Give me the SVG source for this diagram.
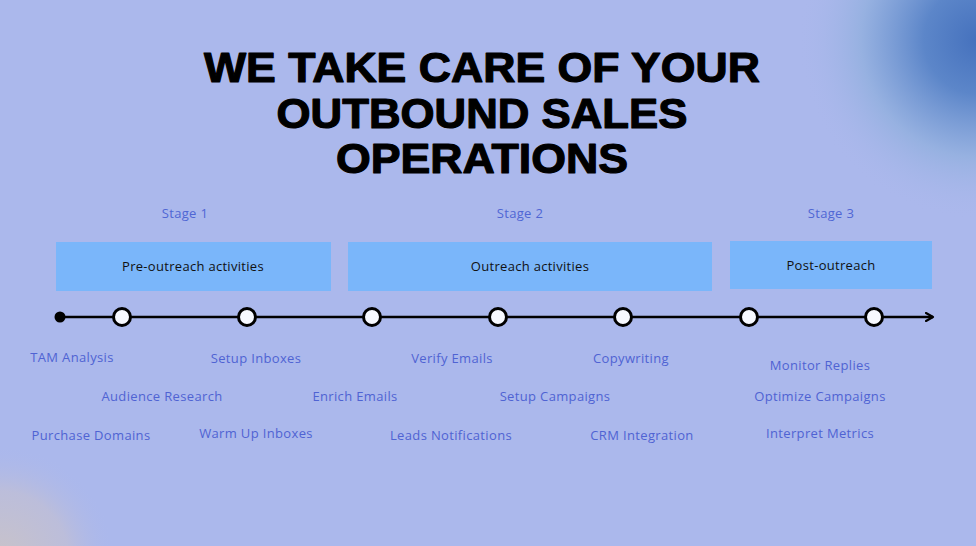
<svg xmlns="http://www.w3.org/2000/svg" width="976" height="546" viewBox="0 0 976 546">
<defs>
<radialGradient id="tr" cx="978" cy="40" r="180" gradientUnits="userSpaceOnUse">
<stop offset="0" stop-color="#4571bd"/>
<stop offset="0.3" stop-color="#5c86c9"/>
<stop offset="0.65" stop-color="#93b0df" stop-opacity="0.85"/>
<stop offset="1" stop-color="#abb8ec" stop-opacity="0"/>
</radialGradient>
<radialGradient id="bl" cx="0" cy="560" r="115" gradientUnits="userSpaceOnUse">
<stop offset="0" stop-color="#c9c3c8"/>
<stop offset="0.6" stop-color="#c0bfd6" stop-opacity="0.8"/>
<stop offset="1" stop-color="#abb8ec" stop-opacity="0"/>
</radialGradient>
<marker id="arr" viewBox="0 0 10 10" refX="8" refY="5" markerWidth="10" markerHeight="10" markerUnits="userSpaceOnUse" orient="auto">
<path d="M1,1 L8,5 L1,9" fill="none" stroke="#000" stroke-width="2.2" stroke-linecap="round" stroke-linejoin="round"/>
</marker>
<style>
.title{font-family:"Liberation Sans",Arial,sans-serif;font-weight:bold;font-size:43px;fill:#000;stroke:#000;stroke-width:1.2px;stroke-linejoin:round;text-anchor:middle}
.stage{font-family:"Open Sans","Liberation Sans",sans-serif;font-size:13px;letter-spacing:0.3px;fill:#4f66d4;text-anchor:middle}
.box{fill:#7ab6fa}
.bt{font-family:"Open Sans","Liberation Sans",sans-serif;font-size:13px;letter-spacing:0.3px;fill:#111;text-anchor:middle}
.lbl{font-family:"Open Sans","Liberation Sans",sans-serif;font-size:13px;letter-spacing:0.35px;fill:#4f63d3;text-anchor:middle}
.node{fill:#f7f9ff;stroke:#000;stroke-width:3}
</style>
</defs>
<rect width="976" height="546" fill="#abb8ec"/>
<rect width="976" height="546" fill="url(#tr)"/>
<rect width="976" height="546" fill="url(#bl)"/>

<g id="title">
<text class="title" x="482" y="82" textLength="556" lengthAdjust="spacingAndGlyphs">WE TAKE CARE OF YOUR</text>
<text class="title" x="482" y="128" textLength="411" lengthAdjust="spacingAndGlyphs">OUTBOUND SALES</text>
<text class="title" x="482" y="173" textLength="292" lengthAdjust="spacingAndGlyphs">OPERATIONS</text>
</g>

<g id="stage1">
<text class="stage" x="185" y="218">Stage 1</text>
<rect class="box" x="56" y="242" width="275" height="49"/>
<text class="bt" x="193" y="271">Pre-outreach activities</text>
</g>
<g id="stage2">
<text class="stage" x="520" y="218">Stage 2</text>
<rect class="box" x="348" y="242" width="364" height="49"/>
<text class="bt" x="530" y="271">Outreach activities</text>
</g>
<g id="stage3">
<text class="stage" x="831" y="218">Stage 3</text>
<rect class="box" x="730" y="241" width="202" height="48"/>
<text class="bt" x="831" y="270">Post-outreach</text>
</g>

<g id="connectors">
<line x1="60" y1="317" x2="933" y2="317" stroke="#000" stroke-width="2.5" marker-end="url(#arr)"/>
<circle cx="60" cy="317" r="5.5" fill="#000"/>
</g>

<g id="nodes">
<circle id="n1" class="node" cx="122" cy="317" r="8.5"/>
<circle id="n2" class="node" cx="247" cy="317" r="8.5"/>
<circle id="n3" class="node" cx="372" cy="317" r="8.5"/>
<circle id="n4" class="node" cx="498" cy="317" r="8.5"/>
<circle id="n5" class="node" cx="623" cy="317" r="8.5"/>
<circle id="n6" class="node" cx="749" cy="317" r="8.5"/>
<circle id="n7" class="node" cx="874" cy="317" r="8.5"/>
</g>

<g id="labels">
<text class="lbl" x="72" y="362">TAM Analysis</text>
<text class="lbl" x="256" y="363">Setup Inboxes</text>
<text class="lbl" x="162" y="401">Audience Research</text>
<text class="lbl" x="355" y="401">Enrich Emails</text>
<text class="lbl" x="91" y="440">Purchase Domains</text>
<text class="lbl" x="256" y="438">Warm Up Inboxes</text>
<text class="lbl" x="452" y="363">Verify Emails</text>
<text class="lbl" x="631" y="363">Copywriting</text>
<text class="lbl" x="555" y="401">Setup Campaigns</text>
<text class="lbl" x="451" y="440">Leads Notifications</text>
<text class="lbl" x="642" y="440">CRM Integration</text>
<text class="lbl" x="820" y="370">Monitor Replies</text>
<text class="lbl" x="820" y="401">Optimize Campaigns</text>
<text class="lbl" x="820" y="438">Interpret Metrics</text>
</g>
</svg>
